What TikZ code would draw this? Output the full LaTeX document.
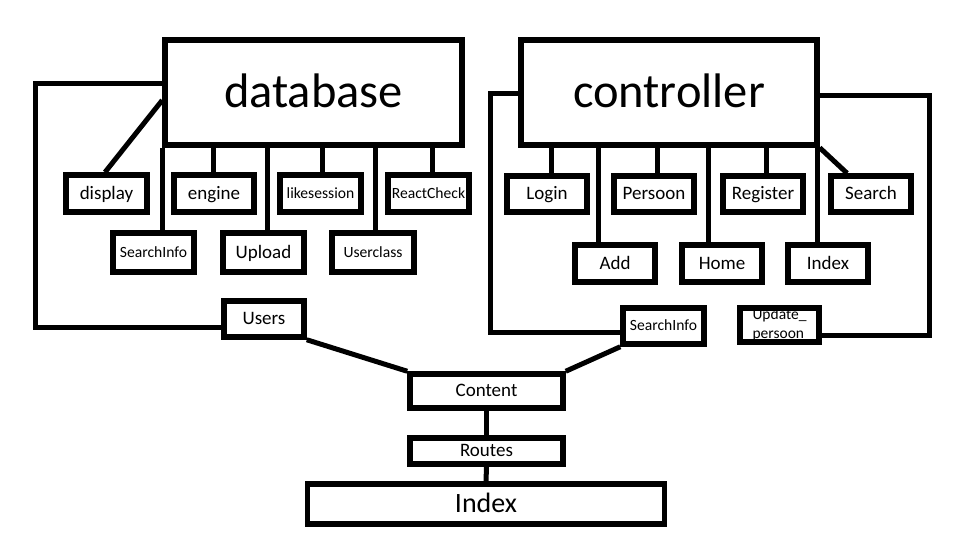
\documentclass[tikz,border=0pt]{standalone}
\usepackage{fontspec}
\setmainfont{Carlito}
\usetikzlibrary{calc}
\begin{document}
\begin{tikzpicture}[x=1pt,y=-1pt,
  frame/.style={draw, line width=5.5pt, rectangle, inner sep=0pt, minimum width=81pt, minimum height=37pt},
  box/.style={frame, text height=13.3pt, text depth=1.9pt, font=\fontsize{19}{21}\selectfont},
  big/.style={frame, text height=34pt, text depth=4.8pt, font=\fontsize{48.5}{50}\selectfont},
  smalltxt/.style={text height=11pt, text depth=1.6pt, font=\fontsize{15.6}{18}\selectfont},
  link/.style={line width=5pt}]
\useasboundingbox (0,0) rectangle (976,535);
% main boxes
\node[big, minimum width=297pt, minimum height=105pt] (database) at (313.5,92.5) {database};
\node[big, minimum width=296pt, minimum height=105pt] (controller) at (669,92.5) {controller};
% database children
\node[box] (display) at (106.5,193.5) {display};
\node[box, minimum width=80pt] (engine) at (214,193.5) {engine};
\node[box, smalltxt] (likesession) at (320.5,193.5) {likesession};
\node[box, smalltxt] (reactcheck) at (428.5,193.5) {ReactCheck};
\node[box, smalltxt, minimum height=39pt] (searchdb) at (153.5,252.5) {SearchInfo};
\node[box, minimum height=39pt] (upload) at (263.5,252.5) {Upload};
\node[box, smalltxt, minimum width=82pt, minimum height=39pt] (userclass) at (373,252.5) {Userclass};
% controller children
\node[box, minimum width=80pt, minimum height=36pt] (login) at (547,194) {Login};
\node[box, minimum width=80pt, minimum height=36pt] (persoon) at (654,194) {Persoon};
\node[box, minimum width=80pt, minimum height=36pt] (register) at (763,194) {Register};
\node[box, minimum width=80pt, minimum height=36pt] (search) at (871,194) {Search};
\node[box, minimum width=80pt] (add) at (615,263.5) {Add};
\node[box, minimum width=80pt] (home) at (722,263.5) {Home};
\node[box, minimum width=80pt] (indexc) at (828,263.5) {Index};
% lower boxes
\node[box, minimum width=80pt, minimum height=36pt] (users) at (264,319) {Users};
\node[box, smalltxt, minimum height=36pt] (searchc) at (663.5,326) {SearchInfo};
\node[frame, minimum width=79pt, minimum height=34pt, font=\fontsize{15.5}{19}\selectfont, align=left] (update) at (779.5,325) {Update\_\\persoon};
\node[box, minimum width=153pt, minimum height=34pt] (content) at (486.5,391) {Content};
\node[box, minimum width=153pt, minimum height=26pt] (routes) at (486.5,451) {Routes};
\node[frame, minimum width=357pt, minimum height=40pt, text height=19.6pt, text depth=2.8pt, font=\fontsize{28}{30}\selectfont] (index) at (486,504) {Index};
% database connectors
\draw[link] (display.north -| 105,0) -- ($(database.north west)!0.57!(database.south west)$);
\draw[link] (database.south west) -- (database.south west |- searchdb.north);
\draw[link] (database.south -| 213,0) -- (engine.north -| 213,0);
\draw[link] (database.south -| 267,0) -- (upload.north -| 267,0);
\draw[link] (database.south -| 322,0) -- (likesession.north -| 322,0);
\draw[link] (database.south -| 375,0) -- (userclass.north -| 375,0);
\draw[link] (database.south -| 432,0) -- (reactcheck.north -| 432,0);
% controller connectors
\draw[link] (controller.south -| 551,0) -- (login.north -| 551,0);
\draw[link] (controller.south -| 598,0) -- (add.north -| 598,0);
\draw[link] (controller.south -| 657,0) -- (persoon.north -| 657,0);
\draw[link] (controller.south -| 708,0) -- (home.north -| 708,0);
\draw[link] (controller.south -| 766,0) -- (register.north -| 766,0);
\draw[link] (controller.south -| 817,0) -- (indexc.north -| 817,0);
\draw[link] (controller.south east) -- ($(search.north west)!0.22!(search.north east)$);
% loops
\coordinate (dl1) at (35,83);
\coordinate (dl2) at (35,327);
\draw[link] (database.west |- dl1) -- (dl1) -- (dl2) -- (users.west |- dl2);
\coordinate (cl1) at (490,93);
\coordinate (cl2) at (490,332);
\draw[link] (controller.west |- cl1) -- (cl1) -- (cl2) -- (searchc.west |- cl2);
\coordinate (cr1) at (929,95);
\coordinate (cr2) at (929,335);
\draw[link] (controller.east |- cr1) -- (cr1) -- (cr2) -- (update.east |- cr2);
% bottom connectors
\draw[link] (users.south east) -- (content.north west);
\draw[link] (searchc.south west) -- (content.north east);
\draw[link] (content.south) -- (routes.north);
\draw[link] (routes.south) -- (index.north);
\end{tikzpicture}
\end{document}
